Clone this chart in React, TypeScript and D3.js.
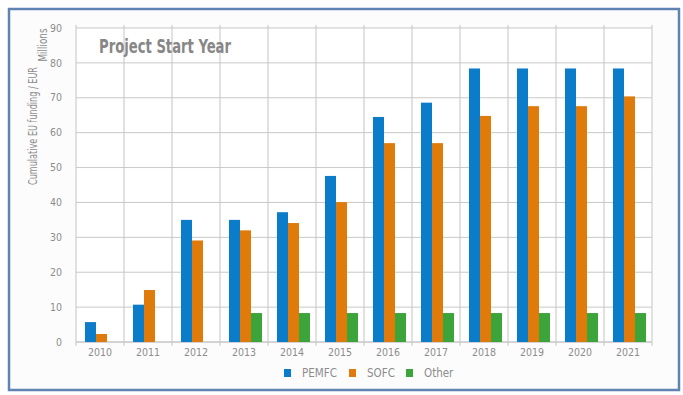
import React, { useEffect, useRef } from 'react';
import * as d3 from 'd3';

const years = ['2010', '2011', '2012', '2013', '2014', '2015', '2016', '2017', '2018', '2019', '2020', '2021'];
const pemfc = [5.7, 10.7, 35, 35, 37.2, 47.6, 64.5, 68.6, 78.4, 78.4, 78.4, 78.4];
const sofc = [2.3, 14.9, 29.1, 32, 34.1, 40.1, 57, 57, 64.8, 67.6, 67.6, 70.4];
const other = [0, 0, 0, 8.3, 8.3, 8.3, 8.3, 8.3, 8.3, 8.3, 8.3, 8.3];
const seriesNames = ['PEMFC', 'SOFC', 'Other'];
const seriesColors = ['#0a7cc9', '#e07a0b', '#3ba53c'];
const yTicks = [0, 10, 20, 30, 40, 50, 60, 70, 80, 90];

const FONT = "'Liberation Sans Narrow', 'DejaVu Sans Condensed', 'Roboto', sans-serif";

export default function App() {
  const ref = useRef<SVGSVGElement>(null);

  useEffect(() => {
    const svg = d3.select(ref.current);
    svg.selectAll('*').remove();

    const width = 683;
    const height = 395;
    const margin = { top: 28, right: 31, bottom: 53, left: 76 };
    const w = width - margin.left - margin.right;
    const h = height - margin.top - margin.bottom;

    // outer frame
    svg.append('rect')
      .attr('x', 9).attr('y', 9)
      .attr('width', 670).attr('height', 381)
      .attr('fill', '#fcfcfc')
      .attr('stroke', '#5f83b3')
      .attr('stroke-width', 2.5);

    const g = svg.append('g').attr('transform', `translate(${margin.left},${margin.top})`);

    const x = d3.scaleBand().domain(years).range([0, w]);
    const x1 = d3.scaleBand().domain(seriesNames).range([9, 42]);
    const y = d3.scaleLinear().domain([0, 90]).range([h, 0]);

    g.append('rect').attr('width', w).attr('height', h).attr('fill', '#ffffff');

    // horizontal grid
    g.append('g')
      .selectAll('line')
      .data(yTicks)
      .join('line')
      .attr('x1', 0).attr('x2', w)
      .attr('y1', d => y(d)).attr('y2', d => y(d))
      .attr('stroke', d => (d === 0 ? '#a8a8a8' : '#c9c9c9'))
      .attr('stroke-width', 1);

    // vertical grid at category boundaries
    const bounds = years.map(d => x(d) as number).concat([w]);
    g.append('g')
      .selectAll('line')
      .data(bounds)
      .join('line')
      .attr('x1', d => d).attr('x2', d => d)
      .attr('y1', -3).attr('y2', h + 4)
      .attr('stroke', '#c4c4c4')
      .attr('stroke-width', 1);

    // y tick labels
    g.append('g')
      .selectAll('text')
      .data(yTicks)
      .join('text')
      .attr('x', -14)
      .attr('y', d => y(d))
      .attr('dy', '0.35em')
      .attr('text-anchor', 'end')
      .attr('font-family', FONT)
      .attr('font-size', 10.5)
      .attr('fill', '#8c8c8c')
      .text(d => d);

    // x tick labels
    g.append('g')
      .selectAll('text')
      .data(years)
      .join('text')
      .attr('x', d => (x(d) as number) + x.bandwidth() / 2)
      .attr('y', h + 14)
      .attr('text-anchor', 'middle')
      .attr('font-family', FONT)
      .attr('font-size', 10.5)
      .attr('fill', '#8c8c8c')
      .text(d => d);

    // bars
    const allSeries = [pemfc, sofc, other];
    const groups = g.append('g')
      .selectAll('g')
      .data(years)
      .join('g')
      .attr('transform', d => `translate(${x(d)},0)`);
    groups.selectAll('rect')
      .data((d, i) => seriesNames.map((s, k) => ({ s, v: allSeries[k][i], c: seriesColors[k] })))
      .join('rect')
      .attr('x', d => x1(d.s) as number)
      .attr('width', x1.bandwidth())
      .attr('y', d => y(d.v))
      .attr('height', d => y(0) - y(d.v))
      .attr('fill', d => d.c);

    // title inside plot
    g.append('text')
      .attr('x', 23)
      .attr('y', 25)
      .attr('font-family', FONT)
      .attr('font-size', 20)
      .attr('font-weight', 'bold')
      .attr('fill', '#878787')
      .attr('textLength', 132)
      .attr('lengthAdjust', 'spacingAndGlyphs')
      .text('Project Start Year');

    // y axis titles
    svg.append('text')
      .attr('transform', 'translate(37,126) rotate(-90)')
      .attr('text-anchor', 'middle')
      .attr('font-family', FONT)
      .attr('font-size', 12)
      .attr('fill', '#8c8c8c')
      .attr('textLength', 118)
      .attr('lengthAdjust', 'spacingAndGlyphs')
      .text('Cumulative EU funding  / EUR');
    svg.append('text')
      .attr('transform', 'translate(47,45) rotate(-90)')
      .attr('text-anchor', 'middle')
      .attr('font-family', FONT)
      .attr('font-size', 12)
      .attr('fill', '#8c8c8c')
      .attr('textLength', 33)
      .attr('lengthAdjust', 'spacingAndGlyphs')
      .text('Millions');

    // legend
    const legendX = [284, 349, 406];
    const legend = svg.append('g')
      .selectAll('g')
      .data(seriesNames)
      .join('g')
      .attr('transform', (d, i) => `translate(${legendX[i]},373)`);
    legend.append('rect')
      .attr('x', 0).attr('y', -4)
      .attr('width', 7).attr('height', 8)
      .attr('fill', (d, i) => seriesColors[i]);
    legend.append('text')
      .attr('x', 18)
      .attr('dy', '0.35em')
      .attr('font-family', FONT)
      .attr('font-size', 11.5)
      .attr('fill', '#8c8c8c')
      .text(d => d);
  }, []);

  return (
    <svg ref={ref} width={683} height={395} style={{ position: 'absolute', left: 0, top: 0 }} />
  );
}
